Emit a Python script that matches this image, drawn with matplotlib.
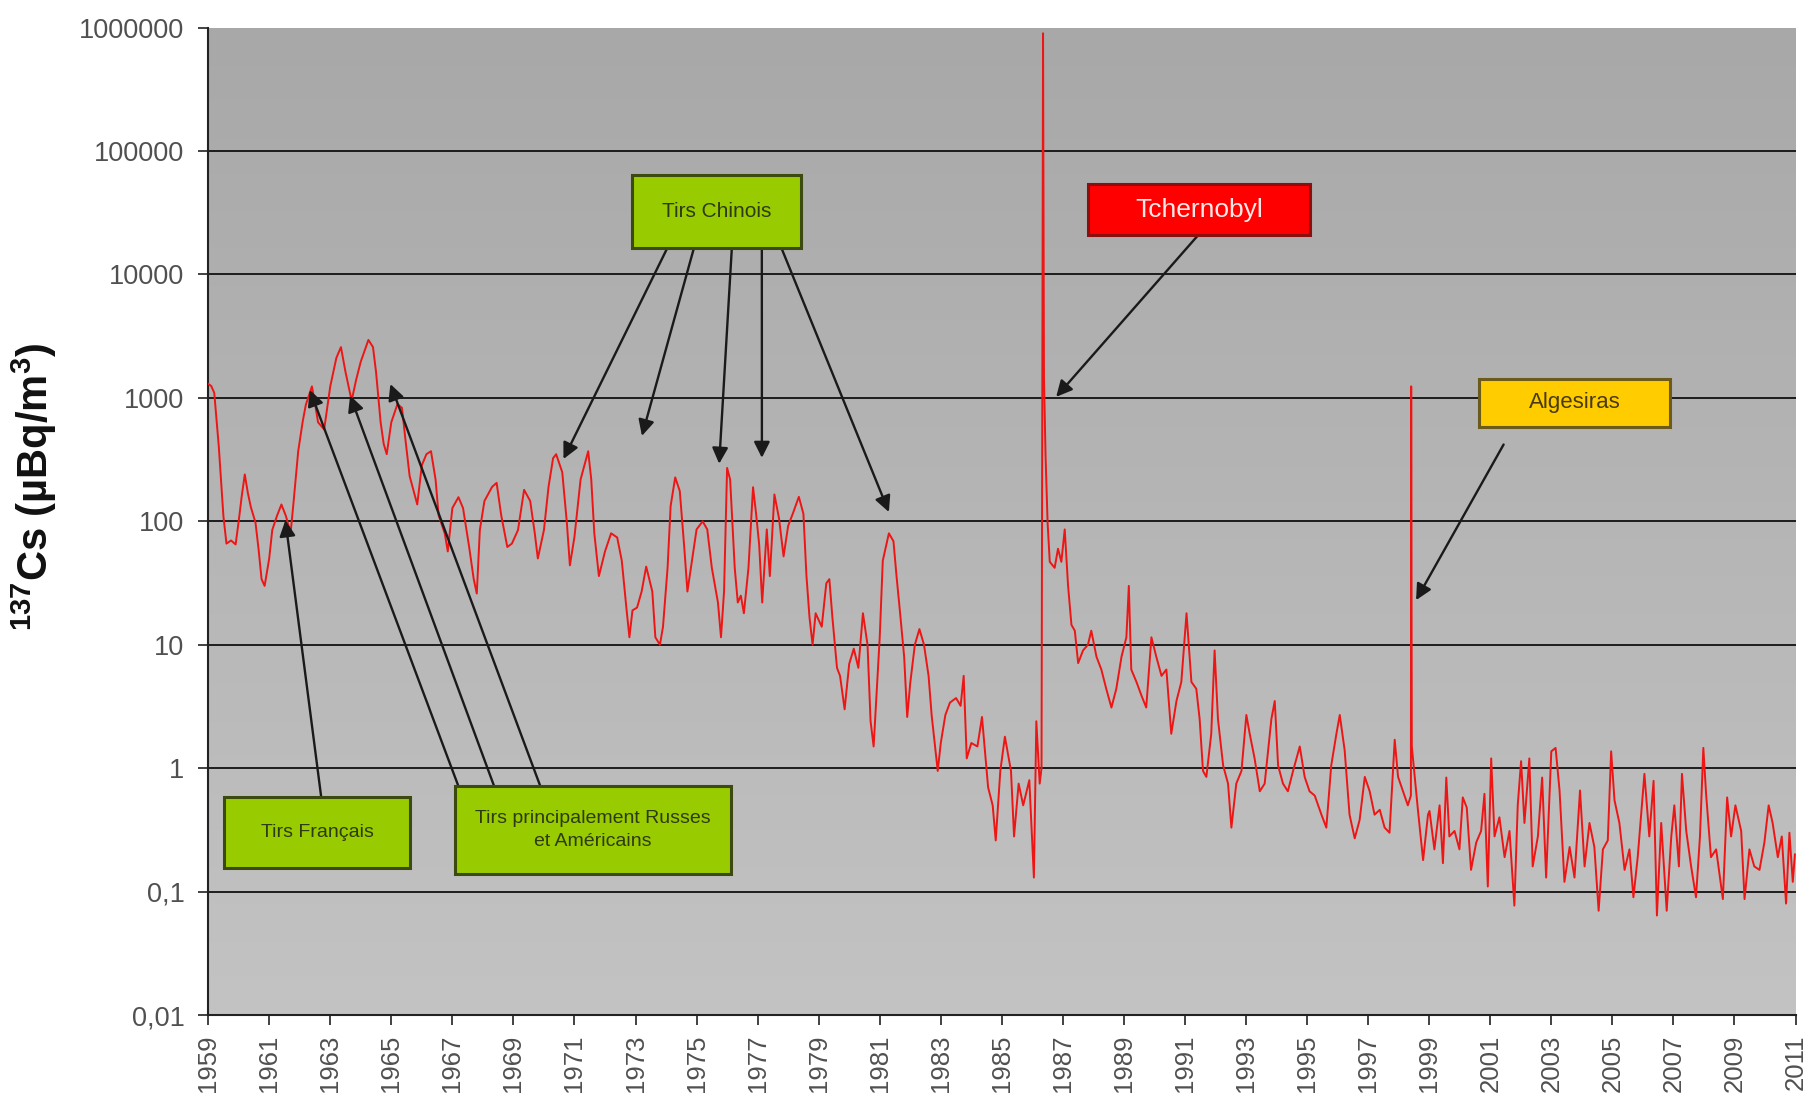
import numpy as np
import matplotlib
matplotlib.use("Agg")
import matplotlib.pyplot as plt
from matplotlib.colors import LinearSegmentedColormap
from matplotlib.patches import Rectangle

plt.rcParams["font.family"] = ["Liberation Sans", "DejaVu Sans"]
plt.rcParams["mathtext.fontset"] = "custom"
plt.rcParams["mathtext.rm"] = "Liberation Sans:bold"
plt.rcParams["mathtext.default"] = "rm"

# (year, 137Cs in µBq/m3), by period
FALLOUT_1959_1972 = [
    (1959.00, 1300), (1959.10, 1250), (1959.20, 1100), (1959.35, 400), (1959.50, 110),
    (1959.60, 66), (1959.75, 70), (1959.90, 65), (1960.00, 100), (1960.10, 160),
    (1960.20, 240), (1960.30, 170), (1960.40, 130), (1960.55, 98), (1960.65, 60),
    (1960.75, 34), (1960.85, 30), (1961.00, 50), (1961.10, 85), (1961.25, 110),
    (1961.40, 137), (1961.55, 110), (1961.70, 80), (1961.80, 145), (1961.95, 370),
    (1962.10, 650), (1962.20, 880), (1962.40, 1240), (1962.50, 900), (1962.60, 635),
    (1962.80, 555), (1963.00, 1240), (1963.20, 2110), (1963.35, 2580), (1963.50, 1620),
    (1963.70, 950), (1963.85, 1410), (1964.00, 1970), (1964.25, 2950), (1964.40, 2580),
    (1964.50, 1620), (1964.65, 635), (1964.75, 425), (1964.85, 350), (1965.00, 635),
    (1965.20, 890), (1965.35, 830), (1965.45, 490), (1965.60, 233), (1965.85, 137),
    (1966.00, 285), (1966.15, 350), (1966.30, 370), (1966.45, 218), (1966.55, 112),
    (1966.75, 80), (1966.85, 57), (1967.00, 128), (1967.20, 157), (1967.35, 128),
    (1967.55, 62), (1967.70, 34), (1967.80, 26), (1967.90, 85), (1968.05, 146),
    (1968.30, 190), (1968.45, 205), (1968.60, 112), (1968.80, 62), (1968.95, 66),
    (1969.15, 85), (1969.35, 180), (1969.55, 146), (1969.70, 80), (1969.80, 50),
    (1970.00, 85), (1970.15, 190), (1970.30, 325), (1970.40, 350), (1970.60, 250),
    (1970.75, 98), (1970.85, 44), (1971.00, 75), (1971.20, 218), (1971.45, 370),
    (1971.55, 218), (1971.65, 80), (1971.80, 36), (1972.00, 57), (1972.20, 80),
    (1972.40, 74),
]

FALLOUT_1972_1986 = [
    (1972.55, 48), (1972.70, 20), (1972.80, 11.5), (1972.90, 19), (1973.05, 20),
    (1973.20, 27), (1973.35, 43), (1973.55, 27), (1973.65, 11.5), (1973.80, 10),
    (1973.90, 14), (1974.05, 42), (1974.15, 133), (1974.30, 227), (1974.45, 176),
    (1974.60, 60), (1974.70, 27), (1974.85, 48), (1975.00, 86), (1975.20, 100),
    (1975.35, 86), (1975.50, 42), (1975.70, 22), (1975.80, 11.5), (1975.90, 27),
    (1976.00, 271), (1976.10, 218), (1976.25, 42), (1976.35, 22), (1976.45, 25),
    (1976.55, 18), (1976.70, 42), (1976.85, 189), (1976.95, 115), (1977.05, 65),
    (1977.15, 22), (1977.30, 86), (1977.40, 36), (1977.55, 165), (1977.70, 106),
    (1977.85, 52), (1978.00, 92), (1978.15, 115), (1978.35, 158), (1978.50, 115),
    (1978.60, 36), (1978.70, 16.6), (1978.80, 10), (1978.90, 18), (1979.10, 14),
    (1979.25, 31.5), (1979.35, 34), (1979.45, 16.6), (1979.60, 6.5), (1979.70, 5.6),
    (1979.85, 3), (1980.00, 7), (1980.15, 9.3), (1980.30, 6.5), (1980.45, 18),
    (1980.60, 10), (1980.70, 2.4), (1980.80, 1.5), (1980.90, 4.2), (1981.00, 11.5),
    (1981.10, 48), (1981.30, 80), (1981.45, 69), (1981.55, 36), (1981.65, 20),
    (1981.80, 8), (1981.90, 2.6), (1982.00, 4.9), (1982.15, 10), (1982.30, 13.4),
    (1982.45, 10), (1982.60, 5.6), (1982.70, 2.7), (1982.90, 0.95), (1983.00, 1.6),
    (1983.15, 2.7), (1983.30, 3.4), (1983.50, 3.7), (1983.65, 3.2), (1983.75, 5.6),
    (1983.85, 1.2), (1984.00, 1.6), (1984.20, 1.5), (1984.35, 2.6), (1984.55, 0.7),
    (1984.70, 0.5), (1984.80, 0.26), (1984.95, 0.95), (1985.10, 1.8), (1985.30, 0.95),
    (1985.40, 0.28), (1985.55, 0.75), (1985.70, 0.5), (1985.90, 0.8),
]

CHERNOBYL_1986_1999 = [
    (1986.05, 0.13), (1986.13, 2.4), (1986.24, 0.75), (1986.30, 1.0), (1986.35, 900000),
    (1986.38, 1500), (1986.43, 355), (1986.50, 96), (1986.57, 47), (1986.73, 42),
    (1986.84, 60), (1986.95, 47), (1987.06, 86), (1987.17, 30), (1987.28, 14.5),
    (1987.39, 13), (1987.50, 7.1), (1987.66, 9), (1987.82, 10), (1987.93, 13),
    (1988.10, 8), (1988.26, 6.3), (1988.42, 4.4), (1988.59, 3.1), (1988.75, 4.4),
    (1988.92, 8), (1989.08, 11.5), (1989.16, 30), (1989.24, 6.3), (1989.41, 5),
    (1989.57, 3.9), (1989.73, 3.1), (1989.90, 11.5), (1990.06, 8), (1990.23, 5.6),
    (1990.39, 6.3), (1990.55, 1.9), (1990.72, 3.5), (1990.88, 5), (1991.05, 18),
    (1991.21, 5), (1991.37, 4.4), (1991.48, 2.5), (1991.59, 0.95), (1991.70, 0.85),
    (1991.86, 1.9), (1991.97, 9), (1992.08, 2.5), (1992.25, 1.05), (1992.41, 0.75),
    (1992.52, 0.33), (1992.68, 0.75), (1992.85, 0.95), (1993.01, 2.7), (1993.12, 1.9),
    (1993.28, 1.2), (1993.45, 0.65), (1993.61, 0.75), (1993.83, 2.5), (1993.94, 3.5),
    (1994.05, 1.05), (1994.21, 0.75), (1994.37, 0.65), (1994.54, 0.95), (1994.76, 1.5),
    (1994.92, 0.85), (1995.08, 0.65), (1995.25, 0.6), (1995.47, 0.42), (1995.63, 0.33),
    (1995.79, 1.05), (1995.96, 1.9), (1996.07, 2.7), (1996.23, 1.4), (1996.39, 0.42),
    (1996.56, 0.27), (1996.72, 0.38), (1996.89, 0.85), (1997.05, 0.65), (1997.21, 0.42),
    (1997.38, 0.46), (1997.54, 0.33), (1997.70, 0.3), (1997.87, 1.7), (1997.98, 0.85),
    (1998.14, 0.65), (1998.30, 0.5), (1998.40, 0.6), (1998.41, 1240), (1998.43, 1.5),
    (1998.63, 0.46), (1998.80, 0.18), (1998.96, 0.42),
]

RECENT_1999_2011 = [
    (1999.01, 0.45), (1999.17, 0.22), (1999.34, 0.5), (1999.45, 0.17), (1999.56, 0.84),
    (1999.66, 0.28), (1999.83, 0.31), (1999.99, 0.22), (2000.10, 0.58), (2000.23, 0.48),
    (2000.37, 0.15), (2000.54, 0.25), (2000.70, 0.31), (2000.81, 0.62), (2000.92, 0.11),
    (2001.03, 1.2), (2001.14, 0.28), (2001.30, 0.4), (2001.47, 0.19), (2001.63, 0.31),
    (2001.79, 0.077), (2001.90, 0.5), (2002.01, 1.14), (2002.12, 0.36), (2002.28, 1.2),
    (2002.39, 0.16), (2002.56, 0.28), (2002.70, 0.84), (2002.83, 0.13), (2003.00, 1.37),
    (2003.14, 1.46), (2003.27, 0.66), (2003.43, 0.12), (2003.60, 0.23), (2003.76, 0.13),
    (2003.94, 0.66), (2004.09, 0.16), (2004.25, 0.36), (2004.41, 0.23), (2004.55, 0.07),
    (2004.69, 0.22), (2004.85, 0.26), (2004.96, 1.37), (2005.07, 0.55), (2005.23, 0.36),
    (2005.40, 0.15), (2005.56, 0.22), (2005.69, 0.09), (2005.83, 0.19), (2006.05, 0.9),
    (2006.21, 0.28), (2006.35, 0.79), (2006.46, 0.064), (2006.60, 0.36), (2006.78, 0.07),
    (2006.93, 0.28), (2007.03, 0.5), (2007.18, 0.16), (2007.28, 0.9), (2007.42, 0.31),
    (2007.58, 0.16), (2007.74, 0.09), (2007.87, 0.28), (2007.98, 1.46), (2008.07, 0.62),
    (2008.23, 0.19), (2008.40, 0.22), (2008.62, 0.087), (2008.76, 0.58), (2008.89, 0.28),
    (2009.03, 0.5), (2009.22, 0.31), (2009.33, 0.087), (2009.49, 0.22), (2009.65, 0.16),
    (2009.82, 0.15), (2009.98, 0.25), (2010.12, 0.5), (2010.25, 0.36), (2010.42, 0.19),
    (2010.55, 0.28), (2010.69, 0.08), (2010.80, 0.3), (2010.91, 0.12), (2010.98, 0.2),
]

YTICKS = [0.01, 0.1, 1, 10, 100, 1000, 10000, 100000, 1000000]
YTICK_LABELS = ["0,01", "0,1", "1", "10", "100", "1000", "10000", "100000", "1000000"]
GRID_LEVELS = [0.1, 1, 10, 100, 1000, 10000, 100000]
XTICKS = list(range(1959, 2012, 2))

GREEN, GREEN_EDGE = "#99cc00", "#3c4a10"
# label, box (x0, y0, x1, y1) in axes fraction, face, edge, text colour, size
BOXES = [
    ("Tirs Chinois", (0.2667, 0.7766, 0.3735, 0.8503), GREEN, GREEN_EDGE, "#2e3a10", 15),
    ("Tchernobyl", (0.5545, 0.7895, 0.6940, 0.8421), "#ff0000", "#8a1010", "#ffe8e8", 19),
    ("Algesiras", (0.8009, 0.5953, 0.9208, 0.6444), "#ffcc00", "#6b5a1a", "#4a3a10", 16),
    ("Tirs Français", (0.0102, 0.1485, 0.1272, 0.2211), GREEN, GREEN_EDGE, "#2e3a10", 14),
    ("Tirs principalement Russes\net Américains", (0.1555, 0.1427, 0.3292, 0.2316),
     GREEN, GREEN_EDGE, "#2e3a10", 14),
]
# arrow start (axes fraction) -> tip (year, value)
ARROWS = [
    ((0.2892, 0.7766), (1970.64, 320)),
    ((0.3060, 0.7766), (1973.21, 492)),
    ((0.3299, 0.7766), (1975.74, 293)),
    ((0.3488, 0.7766), (1977.14, 327)),
    ((0.3612, 0.7766), (1981.30, 119)),
    ((0.6235, 0.7895), (1986.78, 1020)),
    ((0.8161, 0.5778), (1998.57, 23)),
    ((0.0712, 0.2211), (1961.53, 102)),
    ((0.1577, 0.2316), (1962.33, 1160)),
    ((0.1802, 0.2316), (1963.65, 1045)),
    ((0.2093, 0.2316), (1964.97, 1295)),
]


def main():
    series = FALLOUT_1959_1972 + FALLOUT_1972_1986 + CHERNOBYL_1986_1999 + RECENT_1999_2011
    years = np.array([p[0] for p in series])
    values = np.array([p[1] for p in series])

    fig = plt.figure(figsize=(18.1, 11.05), dpi=100)
    ax = fig.add_axes([0.115, 0.0814, 0.877, 0.8936])

    # gray gradient plot area, darker at the top
    cmap = LinearSegmentedColormap.from_list("bg", ["#c3c3c3", "#a8a8a8"])
    ax.imshow(np.linspace(0, 1, 256).reshape(-1, 1), cmap=cmap, origin="lower",
              extent=[0, 1, 0, 1], transform=ax.transAxes, aspect="auto", zorder=0)

    ax.set_yscale("log")
    ax.set_xlim(1959, 2011)
    ax.set_ylim(0.01, 1000000)
    ax.hlines(GRID_LEVELS, 1959, 2011, colors="#111111", lw=1.3, zorder=1)

    ax.plot(years, values, color="#ee1515", lw=1.4, zorder=3)

    ax.set_yticks(YTICKS)
    ax.set_yticklabels(YTICK_LABELS)
    ax.minorticks_off()
    ax.set_xticks(XTICKS)
    ax.set_xticklabels([str(y) for y in XTICKS], rotation=90)
    ax.tick_params(axis="y", labelsize=19.5, labelcolor="#505050", length=7, width=1.3,
                   color="#333333", pad=10)
    ax.tick_params(axis="x", labelsize=18.5, labelcolor="#505050", length=7, width=1.3,
                   color="#333333", pad=7)
    for s in ("top", "right"):
        ax.spines[s].set_visible(False)
    for s in ("left", "bottom"):
        ax.spines[s].set_color("#222222")
        ax.spines[s].set_linewidth(1.5)

    ax.set_ylabel("$^{137}$Cs (µBq/m$^{3}$)", fontsize=30, fontweight="bold", color="#111111")
    ax.yaxis.set_label_coords(-0.094, 0.535)

    for start, tip in ARROWS:
        ax.annotate("", xy=tip, xycoords="data", xytext=start, textcoords="axes fraction",
                    arrowprops=dict(arrowstyle="-|>", color="#1a1a1a", lw=1.7,
                                    mutation_scale=24, shrinkA=0, shrinkB=0),
                    zorder=4)

    for label, (x0, y0, x1, y1), face, edge, tc, size in BOXES:
        ax.add_patch(Rectangle((x0, y0), x1 - x0, y1 - y0, transform=ax.transAxes,
                               facecolor=face, edgecolor=edge, lw=2.2, zorder=5))
        ax.text((x0 + x1) / 2, (y0 + y1) / 2, label, transform=ax.transAxes,
                ha="center", va="center", fontsize=size, color=tc, linespacing=1.45,
                zorder=6)

    fig.savefig("out.png", dpi=100)
    plt.close(fig)


if __name__ == "__main__":
    main()
